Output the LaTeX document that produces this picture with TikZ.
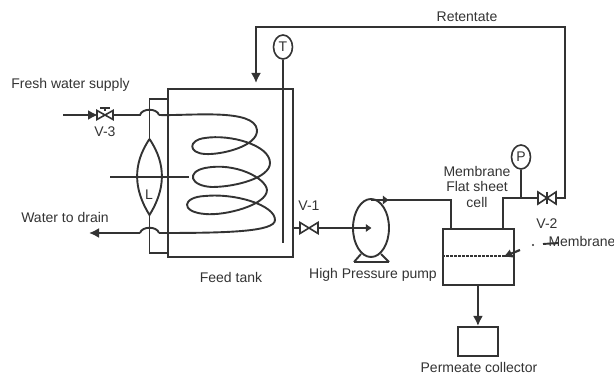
\documentclass[tikz,border=0pt]{standalone}
\usepackage{fontspec}
\setmainfont{Liberation Sans}
\usetikzlibrary{arrows.meta,shapes.geometric}
\definecolor{ink}{HTML}{333333}
\tikzset{
 pipe/.style={draw=ink,line width=1.9pt,line join=miter},
 flow/.style={pipe,-{Latex[length=10pt,width=10pt]}},
 thinpipe/.style={draw=ink,line width=1.6pt},
 lbl/.style={text=ink,font=\fontsize{14}{15.5}\selectfont,inner sep=0pt,align=center},
 gauge/.style={draw=ink,line width=1.6pt,ellipse,minimum width=19pt,minimum height=24pt,inner sep=0pt,text=ink,font=\fontsize{14}{14}\selectfont},
 boxx/.style={draw=ink,line width=1.9pt,inner sep=0pt,anchor=north west},
 valvepart/.style={draw=ink,line width=1.6pt,fill=white}
}
\newcommand{\vlv}[4]{% centre x, y, half width, half height
 \draw[valvepart] (#1-#3,#2-#4) -- (#1+#3,#2+#4) -- (#1+#3,#2-#4) -- (#1-#3,#2+#4) -- cycle;}
\begin{document}
\begin{tikzpicture}[x=1pt,y=-1pt]
\useasboundingbox (0,0) rectangle (614,374);
% Tank
\node[boxx,minimum width=125pt,minimum height=168pt] (tank) at (167,88) {};
\node[boxx,minimum width=71pt,minimum height=56pt] (cell) at (442,228) {};
\node[boxx,minimum width=40pt,minimum height=29pt] (coll) at (457,326) {};
% gauges
\node[gauge] (T) at (283,47) {T};
\node[gauge] (P) at (521,157) {P};
\coordinate (Tend) at (283,243);
\draw[pipe] (T.south) -- (Tend);
\coordinate (Pj) at (521,198);
\draw[pipe] (P.south) -- (Pj);
% side tube, interrupted by the level glass
\draw[pipe] (168,99) -- (149.5,99) -- (149.5,139);
\draw[pipe] (149.5,215) -- (149.5,253) -- (168,253);
% lens
\draw[pipe] (149.5,139) .. controls (132,165) and (134,190) .. (149.5,215) .. controls (165,190) and (167,165) .. (149.5,139);
\draw[thinpipe] (110,177) -- (189,177);
% inlet
\coordinate (inS) at (63,115);
\draw[flow] (inS) -- (98,115);
\draw[pipe] (112,115) -- (140,115) .. controls (142,108) and (157,108) .. (159,115);
\vlv{105}{115}{8}{4.5}
\draw[thinpipe] (105,111) -- (105,108);
\draw[thinpipe] (100,108) -- (110,108);
% coil
\draw[pipe,line join=round] (159,115) .. controls (190,116) and (255,108) .. (257,130)
 .. controls (258,146) and (222,155) .. (205,154)
 .. controls (188,153) and (188,140) .. (205,138)
 .. controls (230,134) and (270,145) .. (270,163)
 .. controls (270,178) and (235,187) .. (212,187)
 .. controls (190,186) and (186,172) .. (205,168)
 .. controls (235,162) and (266,178) .. (267,190)
 .. controls (267,205) and (225,216) .. (205,214)
 .. controls (180,212) and (182,197) .. (205,196)
 .. controls (235,193) and (275,205) .. (275,220)
 .. controls (275,232) and (225,233) .. (159,233);
% drain
\coordinate (outE) at (89,233);
\draw[pipe] (159,233) .. controls (157,226) and (142,226) .. (140,233);
\draw[flow] (140,233) -- (outE);
% retentate
\coordinate (retArrow) at (256,83);
\coordinate (v2r) at (556,198);
\draw[flow] (v2r) -- (565,198) -- (565,27) -- (256,27) -- (retArrow);
% feed to pump
\node[draw=ink,line width=1.9pt,ellipse,minimum width=36pt,minimum height=58pt,inner sep=0pt] (pump) at (371,228) {};
\draw[pipe] (292,228) -- (300,228);
\draw[pipe] (318,228) -- (369,228);
\draw[ink,fill=ink] (371,228) -- (366,224.5) -- (366,231.5) -- cycle;
\vlv{309}{228}{9}{5.5}
\draw[pipe] (354,262) -- (389,262);
\draw[pipe] (361,254) -- (354,262);
\draw[pipe] (381,254) -- (389,262);
% pump to cell
\draw[pipe] (371,200) -- (451,200) -- (451,228);
\draw[ink,fill=ink] (388,200) -- (383,196) -- (383,204) -- cycle;
% cell to V-2
\draw[pipe] (503,228) -- (503,198) -- (538,198);
\vlv{547}{198}{9}{6}
\draw[line width=2pt,ink] (547,192) -- (547,204);
% membrane
\draw[draw=ink,line width=2.4pt,dash pattern=on 2.5pt off 1.5pt] (442,256) -- (513,256);
\coordinate (mA) at (520,250);
\coordinate (mB) at (503,257);
\draw[draw=ink,line width=2.2pt,-{Latex[length=9pt,width=9pt]}] (mA) -- (mB);
\fill[ink] (533,245) circle (1.2pt);
\draw[pipe] (543,244) -- (558,243);
% permeate
\draw[flow] (cell.south -| coll.north) -- (coll.north);
% labels
\node[lbl] at (70.5,85) {Fresh water supply};
\node[lbl] at (105,131.5) {V-3};
\node[lbl] at (65,217) {Water to drain};
\node[lbl] at (149,195) {L};
\node[lbl] at (231,277) {Feed tank};
\node[lbl] at (467,16.5) {Retentate};
\node[lbl] at (309,205.5) {V-1};
\node[lbl] at (373,275) {High Pressure pump};
\node[lbl] at (477,186.5) {Membrane\\Flat sheet\\cell};
\node[lbl] at (547,223.5) {V-2};
\node[lbl] at (582,241.5) {Membrane};
\node[lbl] at (479,367.5) {Permeate collector};
\end{tikzpicture}
\end{document}
